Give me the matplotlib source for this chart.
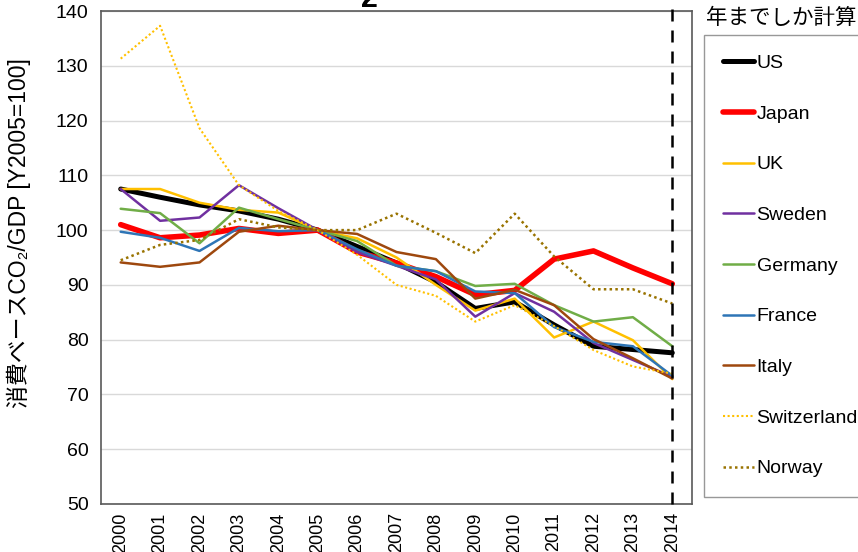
import matplotlib
matplotlib.use("Agg")
import matplotlib.pyplot as plt

plt.rcParams['font.family'] = ['Liberation Sans', 'Noto Sans CJK JP', 'DejaVu Sans']

years = ['2000', '2001', '2002', '2003', '2004', '2005', '2006', '2007',
         '2008', '2009', '2010', '2011', '2012', '2013', '2014']

us          = [107.5, 106.0, 104.6, 103.5, 102.0, 100.0, 97.0, 94.0, 90.5, 85.7, 86.9, 82.7, 78.8, 78.2, 77.6]
japan       = [101.0, 98.6, 99.1, 100.3, 99.4, 100.0, 96.0, 94.0, 91.5, 88.2, 89.0, 94.7, 96.2, 93.1, 90.2]
uk          = [107.5, 107.5, 105.0, 103.7, 103.2, 100.0, 98.5, 95.0, 90.0, 85.3, 87.5, 80.4, 83.3, 79.9, 72.8]
sweden      = [107.5, 101.7, 102.3, 108.2, 104.0, 100.0, 96.0, 93.5, 91.0, 84.2, 88.5, 85.1, 79.4, 76.3, 73.2]
germany     = [103.9, 103.1, 97.6, 104.1, 102.0, 100.0, 98.0, 93.5, 92.5, 89.8, 90.2, 86.3, 83.3, 84.1, 78.8]
france      = [99.7, 98.6, 96.2, 100.4, 99.8, 100.0, 96.5, 93.5, 92.5, 88.8, 88.5, 82.3, 79.6, 78.8, 73.4]
italy       = [94.1, 93.3, 94.1, 99.7, 100.8, 100.0, 99.3, 96.0, 94.7, 87.5, 89.1, 86.3, 80.1, 76.6, 72.9]
switzerland = [131.3, 137.3, 118.6, 108.2, 103.5, 100.0, 95.5, 90.0, 88.0, 83.3, 86.3, 82.5, 78.1, 75.1, 73.8]
norway      = [94.5, 97.3, 98.2, 102.0, 100.5, 100.0, 100.0, 103.0, 99.5, 95.8, 103.0, 95.2, 89.2, 89.2, 86.6]

series = [
    ('US', us, 'black', 3.6, '-'),
    ('Japan', japan, '#FF0000', 4.0, '-'),
    ('UK', uk, '#FFC000', 1.8, '-'),
    ('Sweden', sweden, '#7030A0', 1.8, '-'),
    ('Germany', germany, '#70AD47', 1.8, '-'),
    ('France', france, '#2E75B6', 1.8, '-'),
    ('Italy', italy, '#9E480E', 1.8, '-'),
    ('Switzerland', switzerland, '#FFC000', 1.5, (0, (1, 1.2))),
    ('Norway', norway, '#997300', 1.8, (0, (1, 1.3))),
]

fig = plt.figure(figsize=(8.58, 5.52), dpi=100)
ax = fig.add_axes([101/858, 1-504/552, (692-101)/858, (504-11)/552])

x = list(range(len(years)))
handles = []
for name, vals, color, lw, ls in series:
    h, = ax.plot(x, vals, color=color, lw=lw, linestyle=ls, label=name,
                 solid_capstyle='round', solid_joinstyle='round')
    handles.append(h)

ax.set_xlim(-0.5, len(years) - 0.5)
ax.set_ylim(50, 140)
ax.set_yticks(range(50, 141, 10))
ax.set_xticks(x)
ax.set_xticklabels(years, rotation=90, va='top')
ax.tick_params(axis='y', length=0, labelsize=14, colors='black', pad=9)
ax.tick_params(axis='x', length=0, labelsize=13, colors='black', pad=6)
ax.grid(axis='y', color='#D9D9D9', lw=1)
ax.set_axisbelow(True)
for s in ax.spines.values():
    s.set_color('#595959')
    s.set_linewidth(1.2)

ax.axvline(14, ymin=0, ymax=1 + 11/493, color='black', lw=1.8,
           linestyle=(0, (4.8, 3.6)), clip_on=False, zorder=5)

fig.text(19/858, 1-233/552, '消費ベースCO₂/GDP [Y2005=100]',
         rotation=90, ha='center', va='center', fontsize=16.5)

fig.text(706/858, 1-18/552, '年までしか計算', ha='left', va='center', fontsize=15.5)
fig.text(369/858, 1-7/552, '2', ha='center', va='baseline', fontsize=22, fontweight='bold')

leg = fig.legend(handles=handles, loc='upper left', bbox_to_anchor=(704/858, 1-35/552),
                 fontsize=14, frameon=True, fancybox=False, borderaxespad=0,
                 handlelength=1.55, handletextpad=0.15, labelspacing=1.7,
                 borderpad=1.0, edgecolor='#7f7f7f')
leg.get_frame().set_linewidth(1.0)

fig.savefig('out.png', dpi=100)
